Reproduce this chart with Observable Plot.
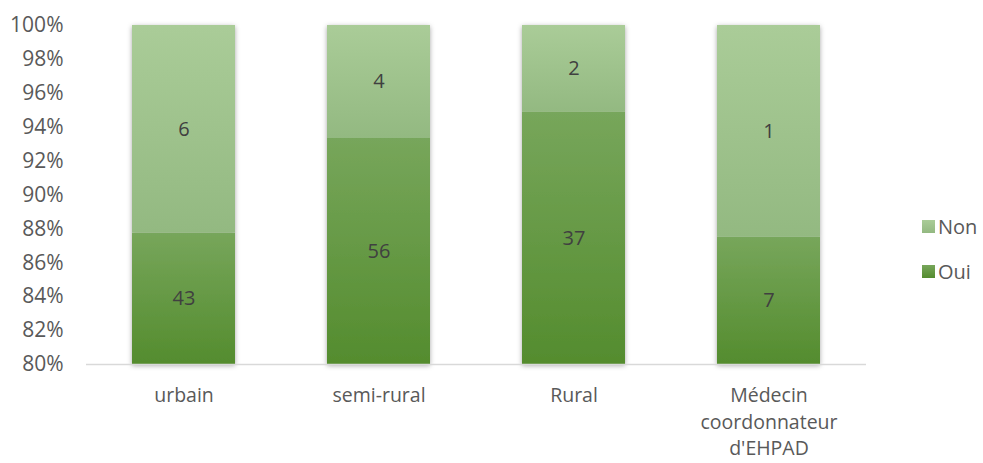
<!DOCTYPE html>
<html>
<head>
<meta charset="utf-8">
<script src="https://cdn.jsdelivr.net/npm/d3@7"></script>
<script src="https://cdn.jsdelivr.net/npm/@observablehq/plot@0.6"></script>
<style>
  html, body { margin: 0; padding: 0; background: #fff; }
  #wrap { position: relative; width: 983px; height: 463px; font-family: "Open Sans", sans-serif; }
  .legend { position: absolute; left: 922px; font-size: 20px; color: #595959; display: flex; align-items: center; }
  .legend span.sw { display: inline-block; width: 13px; height: 13px; margin-right: 3px; }
</style>
</head>
<body>
<div id="wrap"></div>
<script>
const categories = ["urbain", "semi-rural", "Rural", "Médecin\ncoordonnateur\nd'EHPAD"];
const oui = [43, 56, 37, 7];
const non = [6, 4, 2, 1];
const series = ["Oui", "Non"];
const yTicks = [0.80, 0.82, 0.84, 0.86, 0.88, 0.90, 0.92, 0.94, 0.96, 0.98, 1.00];
const yMin = 0.8, yMax = 1.0;

const rows = [];
categories.forEach((c, i) => {
  const total = oui[i] + non[i];
  const f = oui[i] / total;
  rows.push({cat: c, series: "Oui", value: oui[i], y1: 0, y2: f});
  rows.push({cat: c, series: "Non", value: non[i], y1: f, y2: 1});
});
rows.forEach(r => { r.y1 = Math.max(r.y1, yMin); r.mid = (r.y1 + r.y2) / 2; });

const plot = Plot.plot({
  width: 983,
  height: 463,
  marginTop: 25,
  marginBottom: 99,
  marginLeft: 86,
  marginRight: 117,
  style: {fontFamily: "Open Sans, sans-serif", fontSize: "20px", color: "#595959", background: "transparent", overflow: "visible"},
  x: {domain: categories, paddingInner: 0.47, paddingOuter: 0.235, align: 0.5},
  y: {domain: [yMin, yMax]},
  marks: [
    Plot.rectY(rows.filter(d => d.series === "Oui"), {x: "cat", y1: "y1", y2: "y2", fill: "url(#gOui)"}),
    Plot.rectY(rows.filter(d => d.series === "Non"), {x: "cat", y1: "y1", y2: "y2", fill: "url(#gNon)"}),
    Plot.ruleY([yMin], {stroke: "#d9d9d9", strokeWidth: 1.5}),
    Plot.text(rows, {x: "cat", y: "mid", text: d => String(d.value), fill: "#404040", fontSize: 20}),
    Plot.axisY({ticks: yTicks, tickFormat: d3.format(".0%"), tickSize: 0, tickPadding: 23, label: null, fontSize: 21}),
    Plot.axisX({tickSize: 0, tickPadding: 19, label: null, lineHeight: 1.36, fontSize: 19.5})
  ]
});

const svgNS = "http://www.w3.org/2000/svg";
const defs = document.createElementNS(svgNS, "defs");
defs.innerHTML = `
  <linearGradient id="gOui" x1="0" y1="0" x2="0" y2="1">
    <stop offset="0" stop-color="#77a65b"/>
    <stop offset="1" stop-color="#548c2e"/>
  </linearGradient>
  <linearGradient id="gNon" x1="0" y1="0" x2="0" y2="1">
    <stop offset="0" stop-color="#aacc98"/>
    <stop offset="1" stop-color="#93b981"/>
  </linearGradient>
  <filter id="shadow" x="-20%" y="-20%" width="140%" height="140%">
    <feDropShadow dx="0" dy="1.5" stdDeviation="2.5" flood-color="#000" flood-opacity="0.35"/>
  </filter>`;
plot.insertBefore(defs, plot.firstChild);
const rectGroups = Array.from(plot.querySelectorAll('g[aria-label="rect"]'));
if (rectGroups.length) {
  const wrapper = document.createElementNS(svgNS, "g");
  wrapper.setAttribute("filter", "url(#shadow)");
  rectGroups[0].parentNode.insertBefore(wrapper, rectGroups[0]);
  rectGroups.forEach(g => wrapper.appendChild(g));
}

const wrap = document.getElementById("wrap");
wrap.appendChild(plot);

const legendItems = [
  {label: "Non", color: "linear-gradient(#aacc98, #93b981)", top: 213},
  {label: "Oui", color: "linear-gradient(#77a65b, #548c2e)", top: 258}
];
legendItems.forEach(it => {
  const d = document.createElement("div");
  d.className = "legend";
  d.style.top = it.top + "px";
  d.innerHTML = `<span class="sw" style="background:${it.color}"></span>${it.label}`;
  wrap.appendChild(d);
});
</script>
</body>
</html>
